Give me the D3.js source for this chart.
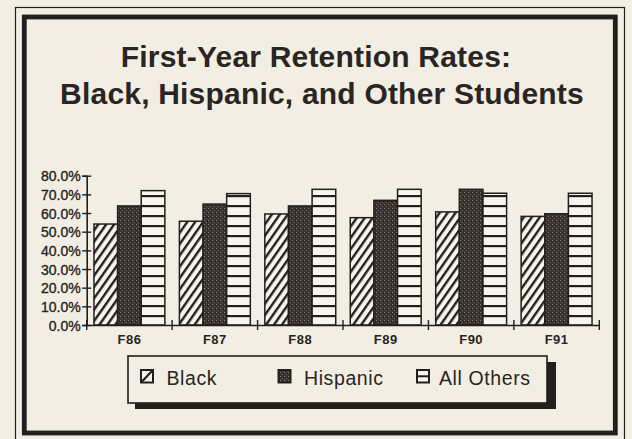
<!DOCTYPE html>
<meta charset="utf-8">
<style>
body { margin: 0; background: #f2eee4; }
svg { display: block; }
.title { font: bold 30px "Liberation Sans", Arial, sans-serif; letter-spacing: 0.2px; fill: #2a2522; text-anchor: middle; }
.axis text { font-family: "Liberation Sans", Arial, sans-serif; fill: #2a2522; }
.legend text { font: 19.5px "Liberation Sans", Arial, sans-serif; letter-spacing: 0.6px; fill: #2a2522; }
</style>
<body>
<script src="https://cdn.jsdelivr.net/npm/d3@7"></script>
<script>

// data (percent)
var years = ["F86", "F87", "F88", "F89", "F90", "F91"];
var groups = ["Black", "Hispanic", "All Others"];
var black = [54.1, 55.6, 59.5, 57.5, 60.6, 58.2];
var hispanic = [63.8, 64.8, 63.8, 66.8, 72.7, 59.6];
var allOthers = [72.0, 70.4, 72.7, 72.7, 70.6, 70.6];
var yTicks = [0, 10, 20, 30, 40, 50, 60, 70, 80];

var series = [black, hispanic, allOthers];
var ink = "#231f1c";
var paper = "#f2eee4";

var W = 632, H = 439;
var svg = d3.select("body").append("svg")
    .attr("width", W)
    .attr("height", H);

// patterns for the three fills
var defs = svg.append("defs");

var hatch = defs.append("pattern")
    .attr("id", "pat0")
    .attr("patternUnits", "userSpaceOnUse")
    .attr("width", 6.5).attr("height", 10)
    .attr("patternTransform", "rotate(35)");
hatch.append("rect").attr("width", 6.5).attr("height", 10).attr("fill", "#f8f5ec");
hatch.append("rect").attr("x", 0).attr("width", 2.4).attr("height", 10).attr("fill", ink);

var stip = defs.append("pattern")
    .attr("id", "pat1")
    .attr("patternUnits", "userSpaceOnUse")
    .attr("width", 4).attr("height", 4);
stip.append("rect").attr("width", 4).attr("height", 4).attr("fill", "#3b3330");
stip.append("rect").attr("x", 0).attr("y", 0).attr("width", 1).attr("height", 1).attr("fill", "#8a807a");
stip.append("rect").attr("x", 2).attr("y", 2).attr("width", 1).attr("height", 1).attr("fill", "#6e6560");
stip.append("rect").attr("x", 3).attr("y", 1).attr("width", 1).attr("height", 1).attr("fill", "#1c1816");

var stripe = defs.append("pattern")
    .attr("id", "pat2")
    .attr("patternUnits", "userSpaceOnUse")
    .attr("width", 10).attr("height", 10)
    .attr("y", 5);
stripe.append("rect").attr("width", 10).attr("height", 10).attr("fill", "#f8f5ec");
stripe.append("rect").attr("y", 0).attr("width", 10).attr("height", 2.2).attr("fill", ink);

// frame
svg.append("rect")
    .attr("x", 15.5).attr("y", 7.5)
    .attr("width", 609).attr("height", 440)
    .attr("fill", "none").attr("stroke", ink).attr("stroke-width", 1.2);
svg.append("rect")
    .attr("x", 24.3).attr("y", 17)
    .attr("width", 591).attr("height", 416)
    .attr("fill", "none").attr("stroke", ink).attr("stroke-width", 4.8);

// title
svg.append("text").attr("class", "title").attr("x", 316).attr("y", 67)
    .text("First-Year Retention Rates:");
svg.append("text").attr("class", "title").attr("x", 322).attr("y", 104)
    .text("Black, Hispanic, and Other Students");

// scales
var x0 = d3.scaleBand().domain(years).range([86.7, 599.3])
    .paddingInner(0.17).paddingOuter(0.085);
var x1 = d3.scaleBand().domain(groups).range([0, x0.bandwidth()]);
var y = d3.scaleLinear().domain([0, 80]).range([325, 175.7]);

// bars
var g = svg.append("g");
years.forEach(function(yr, i) {
    series.forEach(function(s, j) {
        g.append("rect")
            .attr("x", x0(yr) + x1(groups[j]))
            .attr("y", y(s[i]))
            .attr("width", x1.bandwidth())
            .attr("height", y(0) - y(s[i]))
            .attr("fill", "url(#pat" + j + ")")
            .attr("stroke", ink)
            .attr("stroke-width", 1.5);
    });
});

// y axis
var yAxis = svg.append("g")
    .attr("class", "axis")
    .attr("transform", "translate(86.7,0)")
    .call(d3.axisLeft(y).tickValues(yTicks).tickSize(4.5)
        .tickFormat(function(d) { return d.toFixed(1) + "%"; }));
yAxis.select(".domain").attr("stroke", ink).attr("stroke-width", 1.6);
yAxis.selectAll(".tick line").attr("x1", 4.5).attr("x2", -4.5)
    .attr("stroke", ink).attr("stroke-width", 1.4);
yAxis.selectAll(".tick text").attr("x", -6).attr("dy", "0.36em")
    .style("font-size", "14px")
    .attr("stroke", ink).attr("stroke-width", 0.35);

// x axis, ticks at the category borders
var xAxis = svg.append("g")
    .attr("class", "axis")
    .attr("transform", "translate(0,325)")
    .call(d3.axisBottom(x0).tickSize(0).tickSizeOuter(0).tickPadding(10));
xAxis.select(".domain").attr("stroke", ink).attr("stroke-width", 1.6);
xAxis.selectAll(".tick text")
    .style("font-size", "13px").style("font-weight", "bold").style("letter-spacing", "0.5px");
var r = x0.range(), step = x0.step();
d3.range(years.length + 1).forEach(function(k) {
    xAxis.append("line")
        .attr("x1", r[0] + k * step).attr("x2", r[0] + k * step)
        .attr("y1", -5).attr("y2", 5)
        .attr("stroke", ink).attr("stroke-width", 1.4);
});

// legend
var lg = svg.append("g").attr("class", "legend");
lg.append("rect").attr("x", 135).attr("y", 362).attr("width", 421).attr("height", 47)
    .attr("fill", ink);
lg.append("rect").attr("x", 128).attr("y", 356).attr("width", 419).attr("height", 47)
    .attr("fill", paper).attr("stroke", ink).attr("stroke-width", 1.6);

var legendX = [141, 278.5, 417];
groups.forEach(function(name, j) {
    var lx = legendX[j];
    lg.append("rect").attr("x", lx).attr("y", 370).attr("width", 12).attr("height", 12.5)
        .attr("fill", j === 1 ? "url(#pat1)" : "#f8f5ec")
        .attr("stroke", ink).attr("stroke-width", 2);
    if (j === 0) {
        lg.append("line").attr("x1", lx + 1).attr("y1", 381.5).attr("x2", lx + 11).attr("y2", 371)
            .attr("stroke", ink).attr("stroke-width", 2.2);
    }
    if (j === 2) {
        lg.append("line").attr("x1", lx).attr("y1", 376.3).attr("x2", lx + 12).attr("y2", 376.3)
            .attr("stroke", ink).attr("stroke-width", 2);
    }
    lg.append("text").attr("x", lx + (j === 2 ? 22 : 25.5)).attr("y", 384.5).text(name);
});
</script>
</body>
